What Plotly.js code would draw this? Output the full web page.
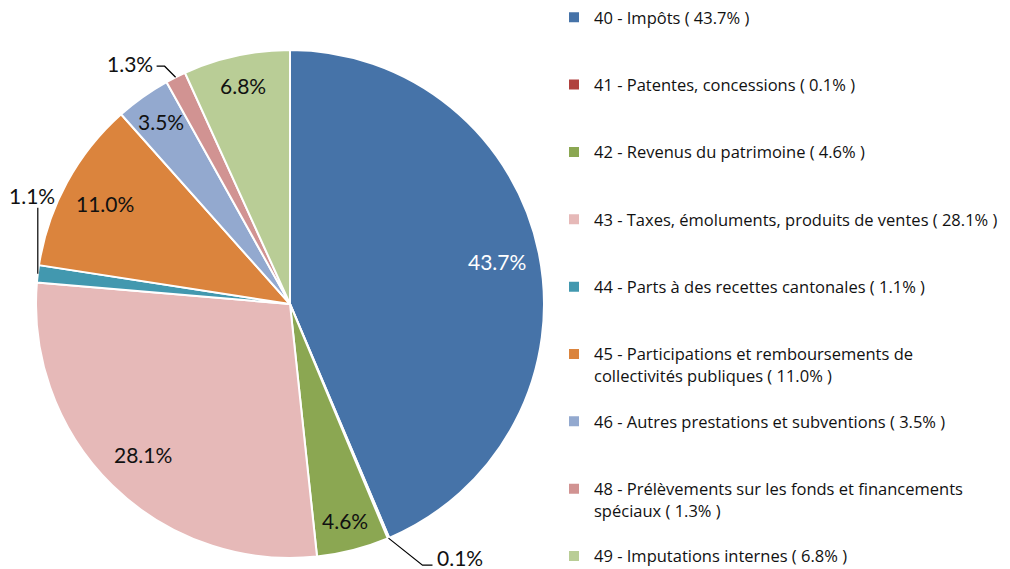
<!DOCTYPE html>
<html><head><meta charset="utf-8">
<script src="https://cdn.plot.ly/plotly-3.0.1.min.js"></script>
<style>html,body{margin:0;padding:0;background:#fff}#chart{width:1010px;height:569px}</style>
</head><body><div id="chart"></div>
<script>
// ---- data ----
const categories = [
  "40 - Impôts",
  "41 - Patentes, concessions",
  "42 - Revenus du patrimoine",
  "43 - Taxes, émoluments, produits de ventes",
  "44 - Parts à des recettes cantonales",
  "45 - Participations et remboursements de<br>collectivités publiques",
  "46 - Autres prestations et subventions",
  "48 - Prélèvements sur les fonds et financements<br>spéciaux",
  "49 - Imputations internes"
];
const shares = [43.7, 0.1, 4.6, 28.1, 1.1, 11.0, 3.5, 1.3, 6.8];
const colors = ["#4673A8", "#B0413E", "#8BA752", "#E6B9B8", "#4298AF", "#DB843D", "#93A9CF", "#D19392", "#B9CD96"];

// ---- style / geometry ----
const W = 1010, H = 569, CX = 290, CY = 304, R = 254;
const FONT = "Lato, 'Open Sans', sans-serif";
const LEGEND_FONT = "'Open Sans', Lato, sans-serif";
const LABEL_SIZE = 21, LEGEND_SIZE = 16.5;
// leader-line offsets (pixels) for small slices with outside labels
const leaders = {
  1: {elbow: [34, 27], tail: [10, 0], anchor: ["left", "middle"], gap: [3, -8]},
  4: {elbow: [0, -66], tail: [0, 0], anchor: ["center", "bottom"], gap: [-6, 2]},
  7: {elbow: [-11, -11], tail: [-8, 0], anchor: ["right", "middle"], gap: [-2, -3]}
};

const px = x => x / W, py = y => 1 - y / H;
const total = shares.reduce((a, b) => a + b, 0);
const pctText = shares.map(v => v.toFixed(1) + "%");
const legendLabels = categories.map((c, i) => {
  const lbl = c + " ( " + pctText[i] + " )";
  const lines = lbl.split("<br>").length;
  return lbl + "<br>\u00a0".repeat(3 - lines);
});

const annotations = [], shapes = [];
let cum = 0;
shares.forEach((v, i) => {
  const mid = (cum + v / 2) / total * 2 * Math.PI;
  cum += v;
  const sx = Math.sin(mid), sy = -Math.cos(mid);
  if (leaders[i]) {
    const L = leaders[i];
    const ex = CX + R * sx, ey = CY + R * sy;
    const bx = ex + L.elbow[0], by = ey + L.elbow[1];
    const tx = bx + L.tail[0], ty = by + L.tail[1];
    shapes.push({type: "path", xref: "paper", yref: "paper",
      path: `M ${px(ex)} ${py(ey)} L ${px(bx)} ${py(by)} L ${px(tx)} ${py(ty)}`,
      line: {color: "#000", width: 1.2}});
    annotations.push({xref: "paper", yref: "paper", x: px(tx + L.gap[0]), y: py(ty + L.gap[1]),
      xanchor: L.anchor[0], yanchor: L.anchor[1], text: pctText[i], showarrow: false,
      font: {family: FONT, size: LABEL_SIZE, color: "#111"}});
  } else {
    const rho = (v / total >= 0.1 ? 0.83 : 0.88) * R;
    annotations.push({xref: "paper", yref: "paper", x: px(CX + rho * sx), y: py(CY + rho * sy),
      xanchor: "center", yanchor: "middle", text: pctText[i], showarrow: false,
      font: {family: FONT, size: LABEL_SIZE, color: i === 0 ? "#ffffff" : "#111"}});
  }
});

const trace = {
  type: "pie",
  labels: legendLabels,
  values: shares,
  sort: false,
  direction: "clockwise",
  rotation: 0,
  textinfo: "none",
  hoverinfo: "label+percent",
  marker: {colors: colors, line: {color: "#ffffff", width: 2}},
  domain: {x: [px(CX - R), px(CX + R)], y: [py(CY + R), py(CY - R)]}
};

const layout = {
  width: W, height: H,
  margin: {l: 0, r: 0, t: 0, b: 0},
  paper_bgcolor: "#ffffff",
  font: {family: FONT, color: "#111"},
  showlegend: true,
  legend: {x: px(554), xanchor: "left", y: py(5), yanchor: "top", valign: "top",
    font: {family: LEGEND_FONT, size: LEGEND_SIZE, color: "#111"}, bgcolor: "rgba(0,0,0,0)"},
  annotations: annotations,
  shapes: shapes
};

Plotly.newPlot("chart", [trace], layout, {displayModeBar: false, staticPlot: true});
</script>
</body></html>
